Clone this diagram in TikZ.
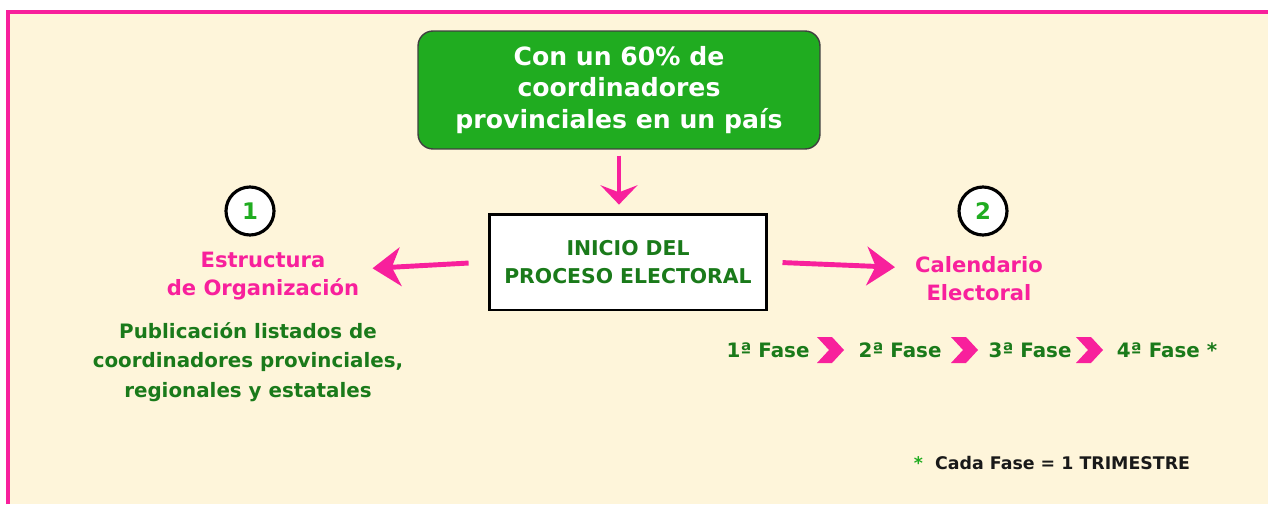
\documentclass[tikz,border=0pt]{standalone}
\usepackage{fontspec}
\setmainfont{DejaVu Sans}
\usepackage{xcolor}
\usepackage{tikz}
\usetikzlibrary{arrows.meta,calc}
\definecolor{fondo}{HTML}{FEF5DA}
\definecolor{rosa}{HTML}{F8209C}
\definecolor{verde}{HTML}{20AC20}
\definecolor{verdeosc}{HTML}{1A7A1A}
\tikzstyle{flecha} = [rosa, line width=2.8pt, -{Stealth[length=16pt,width=22pt,inset=5pt]}]
\tikzstyle{flechab} = [rosa, line width=2.3pt, -{Stealth[length=11pt,width=21pt,inset=4pt]}]
\tikzstyle{texto} = [align=center, inner sep=0pt, font=\bfseries]

\begin{document}
\begin{tikzpicture}[x=0.02cm, y=-0.02cm,
    cond/.style={draw=black!75, line width=0.8pt, fill=verde, rounded corners=8.5pt, minimum width=8.04cm, minimum height=2.36cm, align=center, text=white, font=\bfseries\fontsize{14.3}{18}\selectfont},
    inicio/.style={draw=black, line width=1.7pt, fill=white, minimum width=5.56cm, minimum height=1.92cm, align=center, text=verdeosc, font=\bfseries\fontsize{11.6}{16.4}\selectfont},
    num/.style={circle, draw=black, line width=1.8pt, fill=white, minimum size=0.96cm, inner sep=0pt, text=verde, font=\bfseries\fontsize{13}{14}\selectfont},
    titulo/.style={texto, text=rosa, font=\bfseries\fontsize{12}{16}\selectfont},
    detalle/.style={texto, text=verdeosc, font=\bfseries\fontsize{11.3}{16.7}\selectfont},
    fase/.style={texto, text=verdeosc, font=\bfseries\fontsize{11.3}{12}\selectfont},
    nota/.style={texto, text=black!90, font=\bfseries\fontsize{9.9}{11}\selectfont}]
    % 背景与边框
    \useasboundingbox (0,0) rectangle (1268,504);
    \fill[fondo] (7,11) rectangle (1268,504);
    \draw[rosa, line width=2.4pt] (8,504) -- (8,12) -- (1268,12);

    % 条件框
    \node[cond] (cond) at (619,90) {Con un 60\% de\\coordinadores\\provinciales en un país};

    % 中间框
    \node[inicio] (inicio) at (628,262) {INICIO DEL\\PROCESO ELECTORAL};
    \draw[flechab, shorten <=3.4pt, shorten >=4.5pt] (cond.south) -- (cond.south |- inicio.north);

    % 编号圆
    \node[num] (n1) at (250,211) {1};
    \node[num] (n2) at (983,211) {2};

    % 左侧
    \node[titulo] (estructura) at (263,276) {Estructura\\de Organización};
    \node[detalle] (publicacion) at (248,362) {Publicación listados de\\coordinadores provinciales,\\regionales y estatales};
    \draw[flecha, shorten <=10.8pt, shorten >=7.4pt] (inicio.west) -- ($(estructura.east |- inicio.west)+(0,7)$);

    % 右侧
    \node[titulo] (calendario) at (979,279) {Calendario\\Electoral};
    \draw[flecha, shorten <=8pt, shorten >=11.3pt] (inicio.east) -- ($(calendario.west |- inicio.east)+(0,6)$);

    % 各阶段
    \node[fase] (f1) at (768,350) {1ª Fase};
    \node[fase] (f2) at (900,350) {2ª Fase};
    \node[fase] (f3) at (1030,350) {3ª Fase};
    \node[fase] (f4) at (1167,350) {4ª Fase *};
    \foreach \cx in {817,951,1076} {
        \fill[rosa] (\cx,337) -- ++(15,0) -- ++(12,13) -- ++(-12,13) -- ++(-15,0) -- ++(12,-13) -- cycle;
    }

    % 注释
    \node[nota] (nota) at (1052,463) {\textcolor{verde}{*}\ \ Cada Fase = 1 TRIMESTRE};
\end{tikzpicture}
\end{document}
